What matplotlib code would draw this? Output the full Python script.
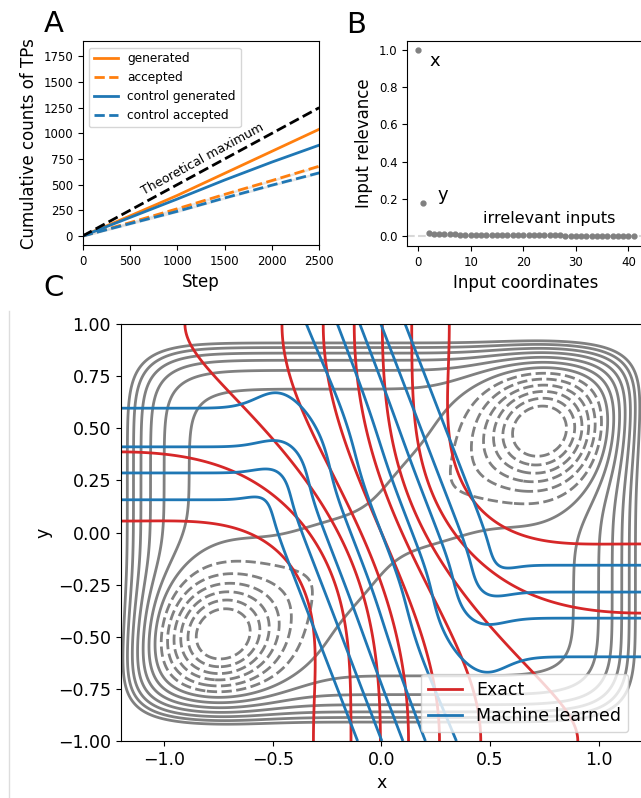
import numpy as np
import matplotlib
matplotlib.use("Agg")
import matplotlib.pyplot as plt
from matplotlib.lines import Line2D

# ---- panel A: cumulative transition path counts ----
steps = [0, 500, 1000, 1500, 2000, 2500]
theoretical_max = [0, 250, 500, 750, 1000, 1250]
generated = [0, 195, 395, 610, 825, 1040]
accepted = [0, 130, 265, 405, 540, 680]
control_generated = [0, 180, 360, 545, 720, 885]
control_accepted = [0, 120, 240, 370, 495, 615]

# ---- panel B: input relevance ----
relevance = [1.0, 0.18, 0.016, 0.012, 0.011, 0.010, 0.010, 0.009, 0.008, 0.008,
             0.007, 0.007, 0.007, 0.006, 0.006, 0.006, 0.006, 0.005, 0.005, 0.005,
             0.005, 0.005, 0.004, 0.004, 0.004, 0.004, 0.004, 0.004, 0.003, 0.003,
             0.003, 0.003, 0.003, 0.003, 0.003, 0.002, 0.002, 0.002, 0.002, 0.002,
             0.002, 0.002]

# ---- panel C: model potential and committor parameters ----
well_x, well_y = 0.74, 0.49
well_depth, well_width = 3.45, 0.19
wall_x_coef, wall_y_coef, wall_pow = 0.8, 6.0, 8
plateau = 0.2
trough_depth, trough_width, trough_slope = 0.6, 0.16, 0.68
bump_height, bump_width = 0.25, 0.2
pot_levels = [-3.0, -2.5, -2.0, -1.5, -1.0, -0.5, 0.0, 0.5, 1.0, 1.5, 2.0, 2.5, 3.0]
q_levels = [0.1, 0.2, 0.3, 0.4, 0.5, 0.6, 0.7, 0.8, 0.9]
# exact committor (distance ratio in warped coordinates)
exact_k2, exact_pow = 0.4, 1.75
# machine-learned committor (smoothly clamped logit)
ml_slope, ml_gain, ml_cubic = 2.69, 2.7, 3.0
ml_a, ml_b, ml_g, ml_tau = 3.459, 3.38, 2.5, 0.35

y_ticks = [-1.0, -0.75, -0.5, -0.25, 0.0, 0.25, 0.5, 0.75, 1.0]
x_ticks = [-1.0, -0.5, 0.0, 0.5, 1.0]

xg = np.linspace(-1.2, 1.2, 500)
yg = np.linspace(-1.0, 1.0, 450)
X, Y = np.meshgrid(xg, yg)


def potential(x, y):
    walls = wall_x_coef * x ** wall_pow + wall_y_coef * y ** wall_pow
    delta = (y - trough_slope * x) / np.sqrt(1 + trough_slope ** 2)
    trough = trough_depth * np.exp(-delta ** 2 / (2 * trough_width ** 2))
    bump = bump_height * np.exp(-(x ** 2 + y ** 2) / (2 * bump_width ** 2))
    wells = well_depth * (np.exp(-((x - well_x) ** 2 + (y - well_y) ** 2) / (2 * well_width ** 2))
                          + np.exp(-((x + well_x) ** 2 + (y + well_y) ** 2) / (2 * well_width ** 2)))
    return walls + plateau - trough + bump - wells


def exact_committor(x, y):
    wx, wy = np.sin(np.pi * x / 2.4), np.sin(np.pi * y / 2)
    ax_, ay_ = np.sin(np.pi * well_x / 2.4), np.sin(np.pi * 0.5 / 2)
    da = np.sqrt((wx + ax_) ** 2 + exact_k2 * (wy + ay_) ** 2)
    db = np.sqrt((wx - ax_) ** 2 + exact_k2 * (wy - ay_) ** 2)
    return da ** exact_pow / (da ** exact_pow + db ** exact_pow)


def ramp(z):
    # smooth ramp z * sigmoid(z / tau)
    return z / (1 + np.exp(-np.clip(z / ml_tau, -60, 60)))


def ml_committor(x, y):
    d = x + y / ml_slope
    h = ml_gain * (d + ml_cubic * d ** 3)
    lo = -ml_a + ml_b * np.tanh(ml_g * y)
    hi = ml_a + ml_b * np.tanh(ml_g * y)
    g = lo + ramp(h - lo) - ramp(h - hi)
    return 1 / (1 + np.exp(-g))


def fmt(v, nd):
    return ("%.*f" % (nd, v)).replace("-", "\u2212")


V = potential(X, Y)
Q_exact = exact_committor(X, Y)
Q_ml = ml_committor(X, Y)

fig = plt.figure(figsize=(6.41, 7.98), dpi=100)

# ---- A ----
axA = fig.add_axes([0.129, 0.693, 0.369, 0.255])
axA.fill_between(steps, np.array(accepted) - 12, np.array(accepted) + 12,
                 color="#cccccc", alpha=0.5, lw=0)
axA.fill_between(steps, np.array(control_accepted) - 12, np.array(control_accepted) + 12,
                 color="#cccccc", alpha=0.5, lw=0)
axA.plot(steps, generated, color="#ff7f0e", lw=2, label="generated")
axA.plot(steps, accepted, color="#ff7f0e", lw=2, ls="--", label="accepted")
axA.plot(steps, control_generated, color="#1f77b4", lw=2, label="control generated")
axA.plot(steps, control_accepted, color="#1f77b4", lw=2, ls="--", label="control accepted")
axA.plot(steps, theoretical_max, color="black", lw=2, ls="--")
axA.text(1270, 745, "Theoretical maximum", rotation=28.5, fontsize=9,
         ha="center", va="center")
axA.set_xlim(0, 2500)
axA.set_ylim(-88, 1895)
axA.set_xticks([0, 500, 1000, 1500, 2000, 2500])
axA.set_yticks([0, 250, 500, 750, 1000, 1250, 1500, 1750])
axA.tick_params(labelsize=8.5)
axA.set_xlabel("Step", fontsize=12)
axA.set_ylabel("Cumulative counts of TPs", fontsize=12)
axA.legend(loc="upper left", fontsize=8.7)

# ---- B ----
axB = fig.add_axes([0.6354, 0.692, 0.37, 0.256])
inputs = np.arange(len(relevance))
axB.axhline(0, color="#d8d8d8", lw=1.5, ls="--", zorder=1)
axB.plot(inputs, relevance, "o", color="gray", ms=3.5, zorder=2)
axB.text(3.2, 0.94, "x", fontsize=13, ha="center", va="center")
axB.text(4.7, 0.22, "y", fontsize=13, ha="center", va="center")
axB.text(24.9, 0.095, "irrelevant inputs", fontsize=11.5, ha="center", va="center")
axB.set_xlim(-2.05, 43.05)
axB.set_ylim(-0.052, 1.045)
axB.set_xticks([0, 10, 20, 30, 40])
axB.tick_params(labelsize=8.5)
axB.set_xlabel("Input coordinates", fontsize=12)
axB.set_ylabel("Input relevance", fontsize=12)

# ---- C ----
axC = fig.add_axes([0.1883, 0.0714, 0.8133, 0.5226])
axC.contour(X, Y, V, levels=pot_levels, colors="gray", linewidths=2)
axC.contour(X, Y, Q_exact, levels=q_levels, colors="#d62728", linewidths=2)
axC.contour(X, Y, Q_ml, levels=q_levels, colors="#1f77b4", linewidths=2)
axC.set_xlim(-1.2, 1.2)
axC.set_ylim(-1, 1)
axC.set_xticks(x_ticks)
axC.set_xticklabels([fmt(v, 1) for v in x_ticks])
axC.set_yticks(y_ticks)
axC.set_yticklabels([fmt(v, 2) for v in y_ticks])
axC.tick_params(labelsize=12.5)
axC.set_xlabel("x", fontsize=12.5)
axC.set_ylabel("y", fontsize=12.5)
handles = [Line2D([], [], color="#d62728", lw=2), Line2D([], [], color="#1f77b4", lw=2)]
axC.legend(handles, ["Exact", "Machine learned"], loc="lower right", fontsize=12.5,
           bbox_to_anchor=(0.99, 0.0))

fig.text(0.084, 0.97, "A", fontsize=21, ha="center", va="center")
fig.text(0.555, 0.969, "B", fontsize=21, ha="center", va="center")
fig.text(0.083, 0.639, "C", fontsize=21, ha="center", va="center")
fig.add_artist(Line2D([0.0145, 0.0145], [0.0, 0.61], color="#dddddd", lw=1))

fig.savefig("out.png", dpi=100)
